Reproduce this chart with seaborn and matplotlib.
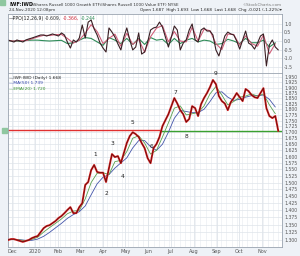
import numpy as np
import pandas as pd
import matplotlib
matplotlib.use("Agg")
import matplotlib.pyplot as plt
import matplotlib.dates as mdates
from matplotlib.ticker import FixedLocator, FixedFormatter, NullLocator
import seaborn as sns

# ---------------- data ----------------
start_date = "2019-11-25"
price = [1.300, 1.303, 1.303, 1.300, 1.297, 1.294, 1.297, 1.300, 1.306, 1.310,
         1.313, 1.326, 1.339, 1.346, 1.349, 1.356, 1.363, 1.373, 1.380, 1.390,
         1.401, 1.411, 1.390, 1.390, 1.411, 1.425, 1.491, 1.502, 1.547, 1.567,
         1.540, 1.537, 1.537, 1.502, 1.555, 1.610, 1.598, 1.602, 1.574, 1.614,
         1.655, 1.684, 1.700, 1.692, 1.680, 1.655, 1.634, 1.594, 1.574, 1.634,
         1.651, 1.680, 1.726, 1.752, 1.778, 1.814, 1.851, 1.826, 1.796, 1.778,
         1.744, 1.757, 1.814, 1.805, 1.770, 1.823, 1.851, 1.874, 1.902, 1.936,
         1.916, 1.860, 1.837, 1.826, 1.796, 1.832, 1.851, 1.874, 1.855, 1.837,
         1.893, 1.883, 1.865, 1.855, 1.851, 1.874, 1.897, 1.805, 1.770, 1.761,
         1.770, 1.705]
ema10 = [1.301, 1.302, 1.300, 1.298, 1.302, 1.309, 1.326, 1.341, 1.355, 1.370,
         1.388, 1.397, 1.399, 1.440, 1.500, 1.535, 1.537, 1.530, 1.580, 1.585,
         1.620, 1.675, 1.685, 1.655, 1.610, 1.625, 1.680, 1.740, 1.805, 1.815,
         1.775, 1.780, 1.785, 1.815, 1.870, 1.905, 1.865, 1.820, 1.835, 1.855,
         1.860, 1.870, 1.860, 1.870, 1.820, 1.780]
ma20 = [1.302, 1.302, 1.301, 1.299, 1.299, 1.303, 1.312, 1.325, 1.340, 1.355,
        1.372, 1.385, 1.395, 1.415, 1.455, 1.495, 1.520, 1.530, 1.555, 1.575,
        1.595, 1.635, 1.665, 1.665, 1.640, 1.625, 1.650, 1.700, 1.760, 1.795,
        1.790, 1.785, 1.785, 1.800, 1.835, 1.875, 1.880, 1.855, 1.840, 1.845,
        1.855, 1.862, 1.862, 1.865, 1.845, 1.810]
ppo = [0.06, 0.00, -0.06, 0.06, 0.00, -0.06, 0.06, 0.12, 0.17, 0.23,
       0.29, 0.35, 0.35, 0.29, 0.35, 0.41, 0.35, 0.29, 0.47, 0.35,
       -0.06, -0.41, 0.06, -0.06, 0.17, 0.93, 0.17, 1.10, 1.22, 0.70,
       0.35, -0.12, -0.41, -0.64, 0.76, 0.52, 0.23, -0.17, -0.52, 0.23,
       0.76, 0.06, -0.52, -0.35, 0.47, -0.76, -0.64, -0.06, 0.64, 0.76,
       0.81, 1.10, 0.81, 0.23, -0.35, 0.23, 0.87, 0.64, -0.52, -0.12,
       0.06, 0.64, 0.99, 0.06, -0.06, 0.64, 0.76, 0.58, 0.58, 0.35,
       -0.52, -0.87, -0.29, 0.29, 0.52, 0.41, 0.35, 0.00, -0.47, 0.06,
       0.58, -0.12, -0.23, -0.47, -0.12, 0.29, 0.41, -1.45, -0.23, 0.06,
       -0.35, -0.52]
ppo_signal = [0.03, 0.00, 0.02, 0.02, 0.12, 0.24, 0.33, 0.32, 0.37, 0.38,
              0.15, -0.12, 0.05, 0.45, 0.95, 0.55, -0.15, 0.15, 0.40, -0.30,
              0.45, -0.20, 0.10, -0.65, 0.25, 0.75, 0.90, -0.05, 0.55, 0.00,
              -0.05, 0.80, 0.00, 0.68, 0.60, -0.15, -0.50, 0.40, 0.38, -0.25,
              0.30, -0.15, -0.30, 0.35, -0.75, -0.15]
ppo_hist = [0.02, 0.00, -0.02, 0.03, 0.05, 0.05, 0.02, 0.00, 0.02, 0.04,
            -0.15, -0.10, 0.05, 0.20, 0.15, -0.05, -0.25, 0.20, 0.05, -0.15,
            0.15, -0.20, 0.15, -0.20, 0.20, 0.05, 0.10, -0.20, 0.15, -0.15,
            0.05, 0.15, -0.05, 0.05, 0.00, -0.20, -0.15, 0.10, 0.00, -0.15,
            0.15, -0.10, -0.10, 0.05, -0.35, -0.10]

level_red = 1.710
level_green = 1.704
wave_labels = ["1", "2", "3", "4", "5", "6", "7", "8", "9"]
wave_dates = ["2020-03-21", "2020-04-06", "2020-04-13", "2020-04-27", "2020-05-11",
              "2020-06-05", "2020-07-08", "2020-07-23", "2020-08-31"]
wave_values = [1.610, 1.461, 1.655, 1.524, 1.740, 1.642, 1.878, 1.684, 1.970]

price_ticks = [1.300, 1.325, 1.350, 1.375, 1.400, 1.425, 1.450, 1.475, 1.500,
               1.525, 1.550, 1.575, 1.600, 1.625, 1.650, 1.675, 1.700, 1.725,
               1.750, 1.775, 1.800, 1.825, 1.850, 1.875, 1.900, 1.925, 1.950]
ppo_ticks = [1.0, 0.5, 0.0, -0.5, -1.0, -1.5]
month_ticks = ["2019-12-01", "2020-01-01", "2020-02-01", "2020-03-01", "2020-04-01",
               "2020-05-01", "2020-06-01", "2020-07-01", "2020-08-01", "2020-09-01",
               "2020-10-01", "2020-11-01"]
month_labels = ["Dec", "2020", "Feb", "Mar", "Apr", "May", "Jun", "Jul", "Aug",
                "Sep", "Oct", "Nov"]

# ---------------- frames ----------------
d4 = pd.date_range(start_date, periods=len(price), freq="4D")
d8 = pd.date_range(start_date, periods=len(ema10), freq="8D")
df_p = pd.DataFrame({"date": d4, "price": price, "ppo": ppo})
df_s = pd.DataFrame({"date": d8, "ema": ema10, "ma": ma20,
                     "sig": ppo_signal, "hist": ppo_hist})

sns.set_theme(style="white")
plt.rcParams["font.family"] = ["DejaVu Sans"]

W, H = 300, 256
fig = plt.figure(figsize=(W / 100, H / 100), dpi=100)
fig.patch.set_facecolor("#eef2f7")

xl = (pd.Timestamp("2019-11-25"), pd.Timestamp("2020-11-28"))
grid_c = "#dfe4ea"
spine_c = "#9aa4b0"

def px_axes(x0, y0, x1, y1):
    return fig.add_axes([x0 / W, 1 - y1 / H, (x1 - x0) / W, (y1 - y0) / H])

ax1 = px_axes(8, 14, 282, 73)
ax2 = px_axes(8, 73, 282, 247)

month_pos = pd.to_datetime(month_ticks)
week_pos = pd.date_range("2019-11-25", "2020-11-28", freq="W-MON")

for ax in (ax1, ax2):
    ax.set_facecolor("white")
    ax.set_xlim(*xl)
    for d in week_pos:
        ax.axvline(d, color="#eceff3", lw=0.5, zorder=0)
    for d in month_pos:
        ax.axvline(d, color=grid_c, lw=0.6, zorder=0)
    for s in ax.spines.values():
        s.set_color(spine_c)
        s.set_linewidth(0.6)
    ax.yaxis.tick_right()
    ax.tick_params(axis="both", length=0, pad=1.5, labelsize=3.3, colors="#555555")

# ---- PPO panel ----
ax1.set_ylim(-1.86, 1.57)
for v in ppo_ticks:
    ax1.axhline(v, color=grid_c, lw=0.5, zorder=0)
sns.lineplot(data=df_s, x="date", y="hist", ax=ax1, color="#2e8b57", lw=0.8)
sns.lineplot(data=df_s, x="date", y="sig", ax=ax1, color="#d0607a", lw=0.8)
sns.lineplot(data=df_p, x="date", y="ppo", ax=ax1, color="#3a1f24", lw=0.8)
ax1.yaxis.set_major_locator(FixedLocator(ppo_ticks))
ax1.yaxis.set_major_formatter(FixedFormatter([f"{v:.1f}" for v in ppo_ticks]))
ax1.set_xticks([])
ax1.set_xlabel("")
ax1.set_ylabel("")
ax1.text(0.004, 0.97, "\u2014PPO(12,26,9)", transform=ax1.transAxes, fontsize=3.3,
         va="top", ha="left", color="#222222")
ax1.text(0.135, 0.97, "-0.609,", transform=ax1.transAxes, fontsize=3.3,
         va="top", ha="left", color="#333333")
ax1.text(0.20, 0.97, "-0.366,", transform=ax1.transAxes, fontsize=3.3,
         va="top", ha="left", color="#d03040")
ax1.text(0.265, 0.97, "-0.244", transform=ax1.transAxes, fontsize=3.3,
         va="top", ha="left", color="#2e8b57")

# ---- price panel ----
ax2.set_yscale("log")
ax2.set_ylim(1.2776, 1.970)
for v in price_ticks:
    ax2.axhline(v, color=grid_c, lw=0.5, zorder=0)
ax2.plot([xl[0], pd.Timestamp("2020-06-17")], [level_red, level_red],
         color="#e03030", lw=1.0, zorder=2)
ax2.plot([pd.Timestamp("2020-06-17"), xl[1]], [level_green, level_green],
         color="#3aa030", lw=1.0, zorder=2)
sns.lineplot(data=df_s, x="date", y="ma", ax=ax2, color="#4455aa", lw=0.6, zorder=3)
sns.lineplot(data=df_s, x="date", y="ema", ax=ax2, color="#5aa050", lw=0.6, zorder=3)
sns.lineplot(data=df_p, x="date", y="price", ax=ax2, color="#d81e1e", lw=1.4, zorder=4)
sns.lineplot(data=df_p, x="date", y="price", ax=ax2, color="#2a0a0a", lw=0.35, zorder=5)
ax2.yaxis.set_major_locator(FixedLocator(price_ticks))
ax2.yaxis.set_major_formatter(FixedFormatter([f"{v:.3f}" for v in price_ticks]))
ax2.yaxis.set_minor_locator(NullLocator())
ax2.set_xticks(month_pos)
ax2.set_xticklabels(month_labels)
ax2.tick_params(axis="x", labelsize=3.6, pad=1.2)
ax2.set_xlabel("")
ax2.set_ylabel("")

for lab, d, v in zip(wave_labels, wave_dates, wave_values):
    ax2.text(pd.Timestamp(d), v, lab, fontsize=4.2, ha="center", va="center",
             color="#222222", zorder=6)

ax2.text(0.004, 0.985, "\u2014IWF:IWD (Daily) 1.668", transform=ax2.transAxes,
         fontsize=3.2, va="top", ha="left", color="#222222")
ax2.text(0.004, 0.952, "\u2014MA(50) 1.739", transform=ax2.transAxes,
         fontsize=3.2, va="top", ha="left", color="#3344aa")
ax2.text(0.004, 0.919, "\u2014EMA(20) 1.720", transform=ax2.transAxes,
         fontsize=3.2, va="top", ha="left", color="#3a9030")

# ---- header ----
fig.text(9 / W, 1 - 5 / H, "IWF:IWD", fontsize=3.6, fontweight="bold",
         va="center", ha="left", color="#111111")
fig.text(31 / W, 1 - 5 / H,
         "(iShares Russell 1000 Growth ETF/iShares Russell 1000 Value ETF) NYSE",
         fontsize=3.0, va="center", ha="left", color="#333333")
fig.text(9 / W, 1 - 10.5 / H, "24-Nov-2020 12:08pm", fontsize=3.0,
         va="center", ha="left", color="#333333")
fig.text(282 / W, 1 - 5 / H, "\u00a9StockCharts.com", fontsize=3.0,
         va="center", ha="right", color="#777777")
fig.text(282 / W, 1 - 10.5 / H,
         "Open 1.687  High 1.693  Low 1.668  Last 1.668  Chg -0.021 (-1.22%)\u25BE",
         fontsize=3.0, va="center", ha="right", color="#222222")

# small tags
fig.patches.append(plt.Rectangle((0, 1 - 5 / H), 5 / W, 5 / H, transform=fig.transFigure,
                                 color="#8fc7a0", zorder=10))
fig.patches.append(plt.Rectangle((1.5 / W, 1 - 133 / H), 5 / W, 5 / H,
                                 transform=fig.transFigure, color="#8fc7a0", zorder=10))

fig.savefig("out.png", dpi=100, facecolor=fig.get_facecolor())
